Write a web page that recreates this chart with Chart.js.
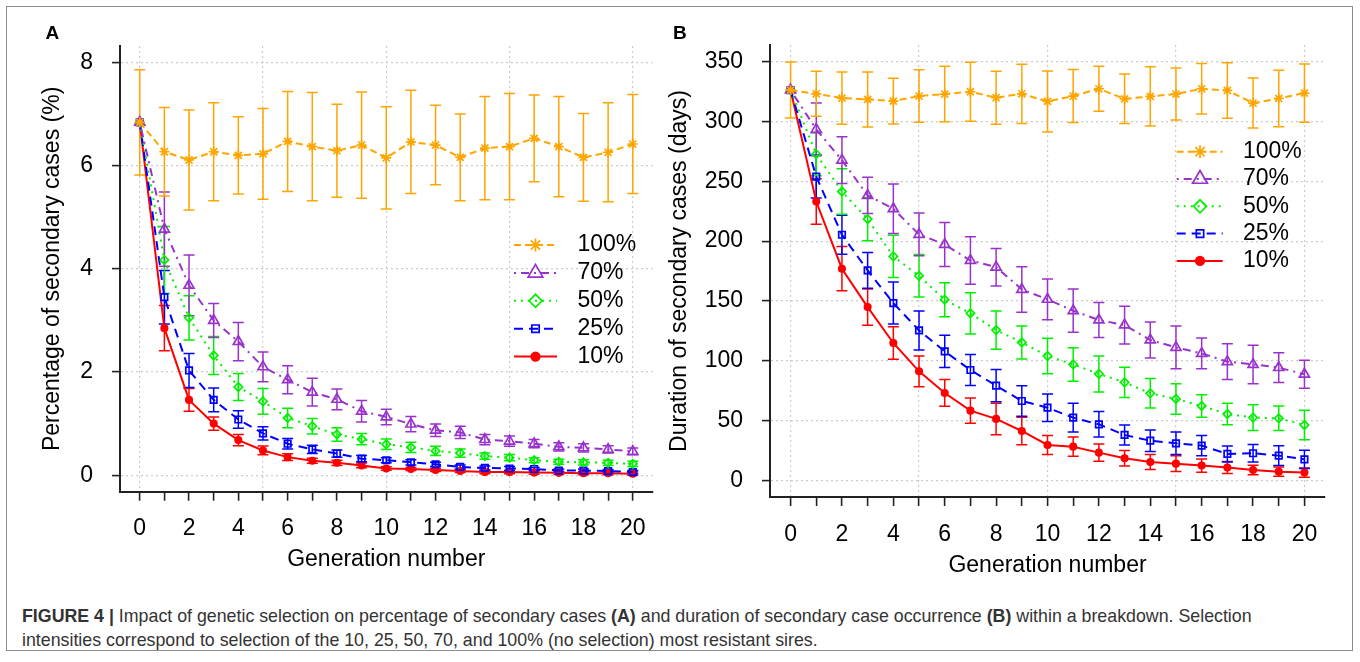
<!DOCTYPE html>
<html><head><meta charset="utf-8">
<script src="https://cdn.jsdelivr.net/npm/chart.js@4.4.1/dist/chart.umd.min.js"></script>
<style>
html,body{margin:0;padding:0;background:#fff;}
body{width:1360px;height:662px;position:relative;overflow:hidden;font-family:"Liberation Sans",Arial,Helvetica,sans-serif;}
#frame{position:absolute;left:6px;top:6px;width:1345px;height:643px;border:1.5px solid #8c8c8c;}
canvas{position:absolute;top:0;}
#cA{left:0}
#cB{left:660px}
.plabel{position:absolute;font-weight:bold;font-size:19px;line-height:18px;top:24px;color:#000}
#caption{position:absolute;left:22px;top:604px;font-size:17.8px;line-height:24px;color:#333;white-space:nowrap}
</style></head>
<body>
<div id="frame"></div>
<canvas id="cA" width="660" height="600"></canvas>
<canvas id="cB" width="700" height="600"></canvas>
<div class="plabel" style="left:45.5px">A</div>
<div class="plabel" style="left:673px">B</div>
<div id="caption"><b>FIGURE 4 |</b> Impact of genetic selection on percentage of secondary cases <b>(A)</b> and duration of secondary case occurrence <b>(B)</b> within a breakdown. Selection<br>intensities correspond to selection of the 10, 25, 50, 70, and 100% (no selection) most resistant sires.</div>
<script>
// ---------- data ----------
const generations = [0,1,2,3,4,5,6,7,8,9,10,11,12,13,14,15,16,17,18,19,20];
const xLabelTicks = [0,2,4,6,8,10,12,14,16,18,20];
const xGridValues = [0,5,10,15,20];
const seriesNames = ['100%','70%','50%','25%','10%'];

// Panel A: percentage of secondary cases (%)
const pctTicks = [0,2,4,6,8];
const a100 = [6.84,6.27,6.11,6.27,6.20,6.23,6.47,6.37,6.29,6.40,6.15,6.46,6.40,6.16,6.34,6.37,6.53,6.37,6.16,6.26,6.42];
const a100err = [1.02,0.86,0.97,0.95,0.75,0.88,0.97,1.05,0.90,1.03,0.99,1.00,0.77,0.84,1.00,1.03,0.84,0.97,0.85,0.96,0.96];
const a70 = [6.84,4.77,3.68,3.00,2.59,2.10,1.85,1.61,1.47,1.24,1.13,0.99,0.87,0.83,0.69,0.66,0.61,0.55,0.53,0.50,0.46];
const a70err = [0,0.72,0.59,0.33,0.37,0.29,0.27,0.27,0.20,0.21,0.15,0.15,0.12,0.12,0.10,0.10,0.08,0.08,0.08,0.07,0.065];
const a50 = [6.84,4.17,3.05,2.32,1.71,1.43,1.11,0.95,0.79,0.70,0.60,0.54,0.47,0.43,0.37,0.34,0.29,0.26,0.25,0.24,0.22];
const a50err = [0,0.65,0.43,0.37,0.26,0.25,0.19,0.15,0.13,0.11,0.10,0.10,0.09,0.08,0.06,0.06,0.05,0.05,0.05,0.05,0.05];
const a25 = [6.84,3.45,2.03,1.46,1.08,0.81,0.61,0.50,0.42,0.32,0.29,0.25,0.21,0.16,0.14,0.13,0.12,0.09,0.09,0.08,0.06];
const a25err = [0,0.52,0.33,0.23,0.17,0.13,0.10,0.08,0.07,0.06,0.05,0.05,0.04,0.04,0.04,0.04,0.03,0.03,0.03,0.03,0.03];
const a10 = [6.84,2.85,1.46,1.00,0.68,0.48,0.35,0.28,0.24,0.19,0.13,0.12,0.10,0.08,0.06,0.06,0.05,0.045,0.04,0.04,0.03];
const a10err = [0,0.44,0.22,0.13,0.11,0.085,0.065,0.05,0.05,0.045,0.035,0.03,0.03,0.03,0.03,0.03,0.03,0.03,0.03,0.03,0.03];

// Panel B: duration of secondary cases (days)
const dayTicks = [0,50,100,150,200,250,300,350];
const b100 = [326.3,323.2,319.6,318.5,317.1,321.3,323.0,324.9,319.9,323.2,316.8,321.3,327.4,319.0,321.0,323.0,327.4,326.0,315.4,319.3,323.8];
const b100err = [23.4,18.8,21.9,23.0,19.1,22.0,23.2,24.7,22.2,24.8,25.5,22.2,18.9,20.7,24.8,21.8,21.2,23.2,20.9,23.6,24.4];
const b70 = [326.3,293.4,267.7,238.2,227.0,205.6,197.2,183.8,178.2,159.6,151.3,141.8,134.0,129.8,117.3,111.1,106.1,99.2,96.9,94.2,88.6];
const b70err = [0,22,19.5,15.2,20.7,17.9,18.4,19.9,15.7,19,17,18.1,14.6,15.8,15.1,17.9,12.8,15.0,16.1,12.4,11.7];
const b50 = [326.3,272.7,241.5,218.4,187.2,171.0,151.0,139.6,125.6,115.3,103.9,96.9,88.9,81.9,72.7,68.0,62.1,55.4,52.4,51.8,46.2];
const b50err = [0,18,19,18,17.7,17.7,14.2,17.2,16,13.8,14.9,14,15,12.7,12.3,12.8,9.5,9,10.7,10.2,12.3];
const b25 = [326.3,254.0,205.3,175.5,148.2,125.3,107.8,92.2,79.1,66.3,60.7,52.4,46.8,37.9,33.1,30.9,29.0,22.0,22.6,20.6,17.5];
const b25err = [0,18,16.3,15,17.5,16.3,13.5,13,13.5,12.8,11.5,12.1,10.7,8.4,9,9.4,8.4,6.7,7.3,8.2,7.7];
const b10 = [326.3,233.1,176.9,144.8,114.8,91.1,73.0,58.2,51.3,41.2,29.5,28.1,23.1,18.4,15.3,13.9,12.3,10.6,8.6,7.2,6.4];
const b10err = [0,19,18.5,15.2,13.5,12.8,11.2,10.5,13.2,11.5,8,8,7.3,6.5,6.3,6.5,5.5,5,4,3.8,3.9];

// ---------- styles ----------
const FONT = '"Liberation Sans", Arial, Helvetica, sans-serif';
const styles = [
  {color:'#FFA500', dash:[7,4],      point:'star',     r:5,   lr:6.5, bg:'rgba(0,0,0,0)'},
  {color:'#9932CC', dash:[2,5,8,5],  point:'triangle', r:5.8, lr:8.5, bg:'rgba(0,0,0,0)'},
  {color:'#00F000', dash:[2,5],      point:'rectRot',  r:4.2, lr:6.5, bg:'rgba(0,0,0,0)'},
  {color:'#0000FF', dash:[9,6],      point:'rect',     r:4.6, lr:5.2, bg:'rgba(0,0,0,0)'},
  {color:'#FF0000', dash:[],         point:'circle',   r:3.2, lr:4.3, bg:'#FF0000'}
];

function buildDatasets(valueLists, errLists){
  return valueLists.map((vals, k) => ({
    label: seriesNames[k],
    data: generations.map((g, i) => ({x: g, y: vals[i]})),
    errors: errLists[k],
    borderColor: styles[k].color,
    borderWidth: 2,
    borderDash: styles[k].dash,
    pointStyle: styles[k].point,
    pointRadius: styles[k].r,
    pointBorderWidth: 1.7,
    pointBorderColor: styles[k].color,
    pointBackgroundColor: styles[k].bg,
    legendRadius: styles[k].lr,
    tension: 0,
    fill: false
  }));
}

const errorBarPlugin = {
  id: 'errorBars',
  beforeDatasetsDraw(chart, args, opts){
    const ctx = chart.ctx, ys = chart.scales.y;
    const dss = chart.data.datasets;
    ctx.save();
    for (let i = dss.length - 1; i >= 0; i--) {
      const ds = dss[i];
      const meta = chart.getDatasetMeta(i);
      ctx.strokeStyle = ds.borderColor;
      ctx.lineWidth = opts.lineWidth;
      ctx.setLineDash([]);
      meta.data.forEach((pt, j) => {
        const e = ds.errors[j];
        if (!e) return;
        const v = ds.data[j].y;
        const yt = ys.getPixelForValue(v + e), yb = ys.getPixelForValue(v - e);
        ctx.beginPath();
        ctx.moveTo(pt.x, yt); ctx.lineTo(pt.x, yb);
        ctx.moveTo(pt.x - opts.cap, yt); ctx.lineTo(pt.x + opts.cap, yt);
        ctx.moveTo(pt.x - opts.cap, yb); ctx.lineTo(pt.x + opts.cap, yb);
        ctx.stroke();
      });
    }
    ctx.restore();
  }
};

const insideLegend = {
  id: 'insideLegend',
  afterDatasetsDraw(chart, args, o){
    const ctx = chart.ctx, ca = chart.chartArea;
    chart.data.datasets.forEach((ds, i) => {
      const yy = ca.top + o.top + i * o.spacing;
      ctx.save();
      ctx.strokeStyle = ds.borderColor;
      ctx.lineWidth = ds.borderWidth;
      ctx.setLineDash(ds.borderDash || []);
      ctx.beginPath();
      ctx.moveTo(ca.right + o.lineStart, yy);
      ctx.lineTo(ca.right + o.lineEnd, yy);
      ctx.stroke();
      ctx.setLineDash([]);
      ctx.strokeStyle = ds.pointBorderColor;
      ctx.fillStyle = ds.pointBackgroundColor;
      ctx.lineWidth = ds.pointBorderWidth;
      Chart.helpers.drawPoint(ctx, {pointStyle: ds.pointStyle, radius: ds.legendRadius, borderWidth: ds.pointBorderWidth, rotation: 0}, ca.right + o.marker, yy);
      ctx.fillStyle = '#000';
      ctx.font = o.fontSize + 'px ' + FONT;
      ctx.textBaseline = 'middle';
      ctx.textAlign = 'left';
      ctx.fillText(ds.label, ca.right + o.text, yy);
      ctx.restore();
    });
  }
};

const GRID = '#cccccc';
function makeChart(id, datasets, cfg){
  return new Chart(document.getElementById(id), {
    type: 'line',
    data: {datasets},
    options: {
      responsive: false, animation: false, devicePixelRatio: 1, events: [],
      layout: {padding: {left: 0, right: cfg.padRight, top: cfg.padTop, bottom: 0}},
      scales: {
        x: {
          type: 'linear', min: -0.8, max: 20.8,
          afterFit: s => { s.height = cfg.xHeight; },
          afterBuildTicks: s => { s.ticks = generations.map(v => ({value: v})); },
          ticks: {autoSkip: false, maxRotation: 0, includeBounds: false, padding: cfg.xTickPad, color: '#000',
                  font: {family: FONT, size: 23},
                  callback: v => xLabelTicks.includes(v) ? String(v) : ''},
          grid: {color: c => (c.tick && xGridValues.includes(c.tick.value)) ? GRID : 'rgba(0,0,0,0)',
                 lineWidth: 1.2, tickColor: '#222', tickLength: 9, tickWidth: 1.6},
          border: {display: true, color: '#222', width: 2, dash: [2,3]},
          title: {display: true, text: 'Generation number', color: '#000', font: {family: FONT, size: 23},
                  padding: {top: 0, bottom: cfg.xTitlePad}}
        },
        y: {
          min: cfg.yMin, max: cfg.yMax,
          afterFit: s => { s.width = cfg.yWidth; },
          afterBuildTicks: s => { s.ticks = cfg.yTicks.map(v => ({value: v})); },
          ticks: {padding: 19, color: '#000', font: {family: FONT, size: 23}},
          grid: {color: GRID, lineWidth: 1.2, tickColor: '#222', tickLength: 8, tickWidth: 1.6},
          border: {display: true, color: '#222', width: 2, dash: [2,3]},
          title: {display: true, text: cfg.yTitle, color: '#000', font: {family: FONT, size: 23},
                  padding: {top: cfg.yTitlePad, bottom: 0}}
        }
      },
      plugins: {
        legend: {display: false}, tooltip: {enabled: false},
        errorBars: {lineWidth: 1.5, cap: 5.5},
        insideLegend: cfg.legend
      }
    },
    plugins: [errorBarPlugin, insideLegend]
  });
}

makeChart('cA', buildDatasets([a100,a70,a50,a25,a10],[a100err,a70err,a50err,a25err,a10err]), {
  padRight: 2, padTop: 46, xHeight: 108.3, yWidth: 120, yMin: -0.32, yMax: 8.32, yTicks: pctTicks,
  xTickPad: 14, xTitlePad: 27, yTitlePad: 39,
  yTitle: 'Percentage of secondary cases (%)',
  legend: {top: 199, spacing: 27.9, lineStart: -138.5, lineEnd: -95.5, marker: -117, text: -75, fontSize: 23}
});
makeChart('cB', buildDatasets([b100,b70,b50,b25,b10],[b100err,b70err,b50err,b25err,b10err]), {
  padRight: 35, padTop: 45, xHeight: 103, yWidth: 110, yMin: -14, yMax: 364, yTicks: dayTicks,
  xTickPad: 15, xTitlePad: 21, yTitlePad: 6,
  yTitle: 'Duration of secondary cases (days)',
  legend: {top: 106.7, spacing: 27.3, lineStart: -148.3, lineEnd: -102.3, marker: -125, text: -82, fontSize: 23}
});
</script>
</body></html>
